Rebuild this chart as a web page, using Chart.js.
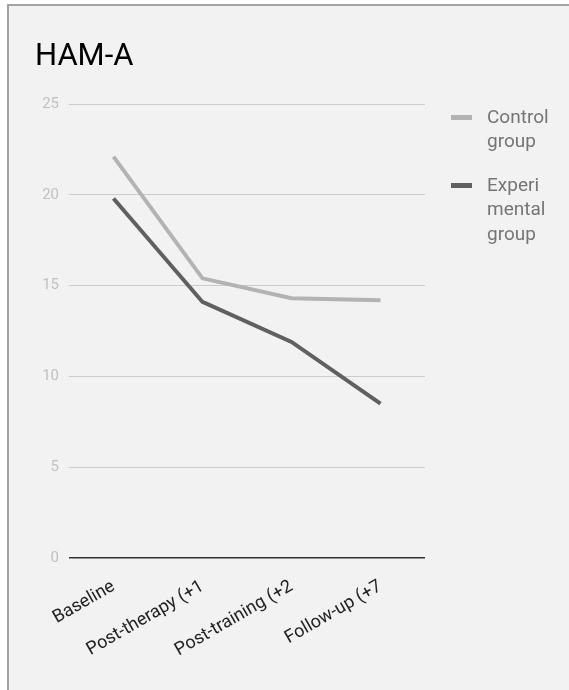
<!DOCTYPE html>
<html>
<head>
<meta charset="utf-8">
<script src="https://cdn.jsdelivr.net/npm/chart.js@4/dist/chart.umd.min.js"></script>
<style>
  html, body { margin: 0; padding: 0; background: #ffffff; }
  body { width: 569px; height: 690px; position: relative; overflow: hidden; }
  #frame {
    position: absolute; left: 7px; top: 4px; width: 640px; height: 720px;
    background: #f2f2f2; border-left: 2px solid #a3a3a3; border-top: 2px solid #a3a3a3;
  }
  #wrap { position: absolute; left: 0; top: 0; width: 569px; height: 690px; }
</style>
</head>
<body>
<div id="frame"></div>
<div id="wrap"><canvas id="chart" width="569" height="690"></canvas></div>
<script>
const chartTitle = 'HAM-A';
const categories = ['Baseline', 'Post-therapy (+1', 'Post-training (+2', 'Follow-up (+7'];
const seriesNames = ['Control group', 'Experimental group'];
const controlGroup = [22.1, 15.4, 14.3, 14.2];
const experimentalGroup = [19.8, 14.1, 11.9, 8.5];
const yTicks = [0, 5, 10, 15, 20, 25];

const FONT = 'Roboto, "Noto Sans", sans-serif';

// Title and wrapped right-hand legend
const annotations = {
  id: 'annotations',
  afterDraw(chart) {
    const ctx = chart.ctx;
    ctx.save();
    ctx.fillStyle = '#000000';
    ctx.font = '31px ' + FONT;
    ctx.textAlign = 'left';
    ctx.textBaseline = 'alphabetic';
    ctx.fillText(chartTitle, 35, 65);

    ctx.font = '19px ' + FONT;
    ctx.textBaseline = 'middle';
    const maxW = 64, lineH = 24.5, gap = 19;
    const wrap = (text) => {
      const lines = [];
      let cur = '';
      text.split(' ').forEach(word => {
        let w = word;
        while (ctx.measureText(w).width > maxW) {
          if (cur) { lines.push(cur); cur = ''; }
          let n = w.length;
          while (n > 1 && ctx.measureText(w.slice(0, n)).width > maxW) n--;
          lines.push(w.slice(0, n));
          w = w.slice(n);
        }
        const cand = cur ? cur + ' ' + w : w;
        if (ctx.measureText(cand).width <= maxW) cur = cand;
        else { lines.push(cur); cur = w; }
      });
      if (cur) lines.push(cur);
      return lines;
    };
    let y = 118;
    chart.data.datasets.forEach(ds => {
      ctx.fillStyle = ds.borderColor;
      ctx.fillRect(451, y - 3, 21, 5);
      ctx.fillStyle = '#757575';
      const lines = wrap(ds.label);
      lines.forEach((ln, i) => ctx.fillText(ln, 487, y + i * lineH));
      y += lines.length * lineH + gap;
    });
    ctx.restore();
  }
};

new Chart(document.getElementById('chart'), {
  type: 'line',
  data: {
    labels: categories,
    datasets: [
      { label: seriesNames[0], data: controlGroup, borderColor: '#b3b3b3', borderWidth: 4, pointRadius: 0, tension: 0, fill: false },
      { label: seriesNames[1], data: experimentalGroup, borderColor: '#606060', borderWidth: 4, pointRadius: 0, tension: 0, fill: false }
    ]
  },
  options: {
    responsive: false,
    animation: false,
    layout: { padding: { top: 104, right: 144, left: 0, bottom: 0 } },
    plugins: { legend: { display: false }, title: { display: false }, tooltip: { enabled: false } },
    scales: {
      x: {
        offset: true,
        grid: { display: false },
        border: { display: false },
        ticks: { color: '#222222', font: { family: FONT, size: 18 }, minRotation: 30, maxRotation: 30, padding: 10 },
        afterFit(scale) { scale.height = 132; }
      },
      y: {
        min: 0, max: 25,
        afterBuildTicks(scale) { scale.ticks = yTicks.map(v => ({ value: v })); },
        ticks: { color: '#c0c0c0', font: { family: FONT, size: 15 }, padding: 10 },
        grid: {
          drawTicks: false,
          color: c => c.tick && c.tick.value === 0 ? '#333333' : '#cccccc',
          lineWidth: c => c.tick && c.tick.value === 0 ? 1.5 : 1
        },
        border: { display: false },
        afterFit(scale) { scale.width = 69; }
      }
    }
  },
  plugins: [annotations]
});
</script>
</body>
</html>
